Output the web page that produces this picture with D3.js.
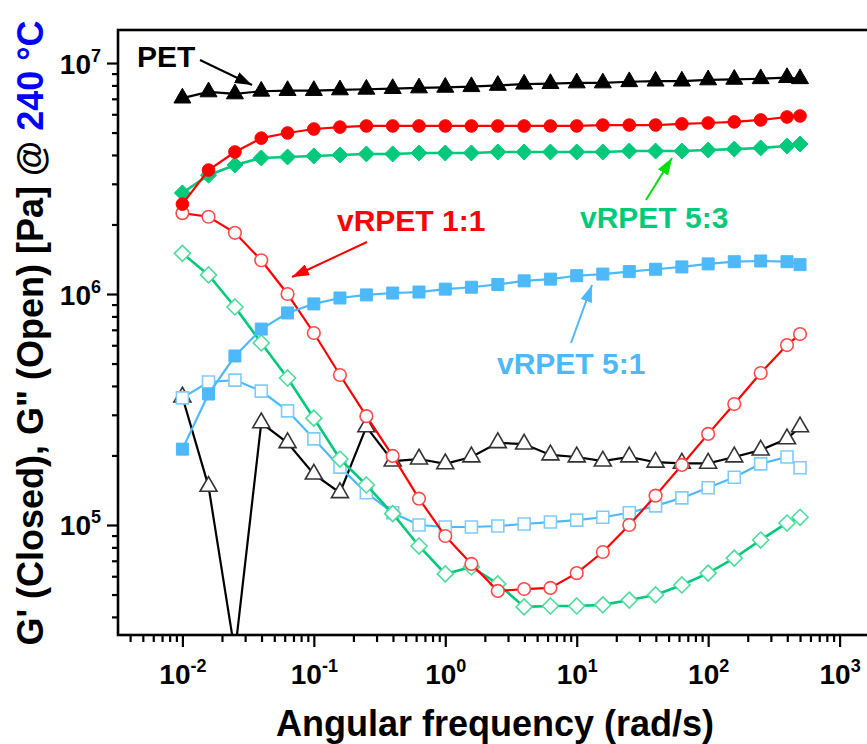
<!DOCTYPE html>
<html><head><meta charset="utf-8">
<script src="https://cdn.jsdelivr.net/npm/d3@7"></script>
<style>
body{margin:0;background:#fff}
svg{display:block}
text{font-family:"Liberation Sans",Arial,sans-serif;font-weight:bold}
</style>
</head><body>
<svg id="c" width="867" height="744"></svg>
<script>
// ---- data ----
const omega = [0.01, 0.0158, 0.0251, 0.0398, 0.0631, 0.1, 0.158, 0.251, 0.398, 0.631, 1, 1.58, 2.51, 3.98, 6.31, 10, 15.8, 25.1, 39.8, 63.1, 100, 158, 251, 398, 500];
const petGp   = [7.05e6, 7.5e6, 7.35e6, 7.55e6, 7.6e6, 7.6e6, 7.65e6, 7.7e6, 7.75e6, 7.8e6, 7.85e6, 7.9e6, 8.0e6, 8.1e6, 8.15e6, 8.2e6, 8.2e6, 8.3e6, 8.35e6, 8.35e6, 8.45e6, 8.5e6, 8.55e6, 8.65e6, 8.55e6];
const petGpp  = [3.58e5, 1.47e5, 2.8e4, 2.77e5, 2.27e5, 1.66e5, 1.38e5, 2.66e5, 1.89e5, 1.93e5, 1.84e5, 1.97e5, 2.27e5, 2.24e5, 2.01e5, 1.97e5, 1.89e5, 1.97e5, 1.87e5, 1.85e5, 1.85e5, 1.97e5, 2.11e5, 2.36e5, 2.66e5];
const r11Gp   = [2.45e6, 3.44e6, 4.12e6, 4.73e6, 4.98e6, 5.18e6, 5.28e6, 5.34e6, 5.34e6, 5.34e6, 5.34e6, 5.34e6, 5.34e6, 5.34e6, 5.34e6, 5.34e6, 5.39e6, 5.39e6, 5.39e6, 5.45e6, 5.5e6, 5.56e6, 5.67e6, 5.84e6, 5.9e6];
const r11Gpp  = [2.24e6, 2.16e6, 1.84e6, 1.4e6, 1.0e6, 6.78e5, 4.46e5, 2.96e5, 1.99e5, 1.3e5, 8.96e4, 6.78e4, 5.18e4, 5.28e4, 5.34e4, 6.19e4, 7.64e4, 1.0e5, 1.34e5, 1.82e5, 2.48e5, 3.34e5, 4.55e5, 6.01e5, 6.71e5];
const r53Gp   = [2.74e6, 3.27e6, 3.62e6, 3.88e6, 3.92e6, 3.96e6, 4.0e6, 4.04e6, 4.04e6, 4.08e6, 4.08e6, 4.08e6, 4.12e6, 4.12e6, 4.12e6, 4.12e6, 4.12e6, 4.16e6, 4.16e6, 4.16e6, 4.2e6, 4.24e6, 4.29e6, 4.37e6, 4.46e6];
const r53Gpp  = [1.5e6, 1.21e6, 8.79e5, 6.14e5, 4.33e5, 2.9e5, 1.93e5, 1.49e5, 1.12e5, 8.11e4, 6.14e4, 6.58e4, 5.56e4, 4.42e4, 4.46e4, 4.46e4, 4.51e4, 4.73e4, 4.98e4, 5.5e4, 6.19e4, 7.19e4, 8.61e4, 1.02e5, 1.08e5];
const r51Gp   = [2.13e5, 3.69e5, 5.39e5, 7.05e5, 8.28e5, 9.06e5, 9.61e5, 9.91e5, 1.01e6, 1.02e6, 1.05e6, 1.07e6, 1.1e6, 1.14e6, 1.16e6, 1.2e6, 1.22e6, 1.25e6, 1.28e6, 1.31e6, 1.35e6, 1.38e6, 1.39e6, 1.38e6, 1.34e6];
const r51Gpp  = [3.55e5, 4.16e5, 4.24e5, 3.8e5, 3.12e5, 2.36e5, 1.78e5, 1.38e5, 1.13e5, 1.0e5, 9.8e4, 9.8e4, 9.9e4, 1.01e5, 1.03e5, 1.05e5, 1.08e5, 1.13e5, 1.21e5, 1.31e5, 1.45e5, 1.61e5, 1.84e5, 1.97e5, 1.77e5];
const xMajorTicks = [1e-2, 1e-1, 1e0, 1e1, 1e2, 1e3];
const xTickExps   = ["-2", "-1", "0", "1", "2", "3"];
const yMajorTicks = [1e5, 1e6, 1e7];
const yTickExps   = ["5", "6", "7"];
const annotations = ["PET", "vRPET 1:1", "vRPET 5:3", "vRPET 5:1"];

// ---- layout ----
const plot = {left:118, top:30, right:904, bottom:635};
const svg = d3.select("#c");
const x = d3.scaleLog().domain([Math.pow(10,-2.49), Math.pow(10,3.49)]).range([plot.left, plot.right]);
const y = d3.scaleLog().domain([3.34e4, 1.39e7]).range([plot.bottom, plot.top]);

const colors = {black:"#000", red:"#ff0000", green:"#00c97b", blue:"#4db8fa"};
const openStroke = {black:"#333", red:"#ff4a4a", green:"#4ddc9c", blue:"#7fcbfb"};

function minors(scale){
  const [a,b] = scale.domain(); const out=[];
  for(let e=Math.floor(Math.log10(a)); e<=Math.ceil(Math.log10(b)); e++)
    for(let k=2;k<=9;k++){const v=k*Math.pow(10,e); if(v>=a && v<=b) out.push(v);}
  return out;
}

svg.append("defs").append("clipPath").attr("id","clip")
  .append("rect").attr("x",plot.left).attr("y",plot.top)
  .attr("width",plot.right-plot.left).attr("height",plot.bottom-plot.top);

// axes
const axW = 2.2;
const gxMin = svg.append("g").attr("transform",`translate(0,${plot.bottom})`)
  .call(d3.axisBottom(x).tickValues(minors(x)).tickSize(7).tickFormat(""));
const gxMaj = svg.append("g").attr("transform",`translate(0,${plot.bottom})`)
  .call(d3.axisBottom(x).tickValues(xMajorTicks).tickSize(12).tickFormat(""));
const gyMin = svg.append("g").attr("transform",`translate(${plot.left},0)`)
  .call(d3.axisLeft(y).tickValues(minors(y)).tickSize(6).tickFormat(""));
const gyMaj = svg.append("g").attr("transform",`translate(${plot.left},0)`)
  .call(d3.axisLeft(y).tickValues(yMajorTicks).tickSize(11).tickFormat(""));
[gxMin,gxMaj,gyMin,gyMaj].forEach(g=>{
  g.select(".domain").remove();
  g.selectAll(".tick line").attr("stroke","#000").attr("stroke-width",axW);
});

gxMaj.selectAll(".tick").each(function(d,i){
  const t = d3.select(this).append("text").attr("y",49).attr("text-anchor","middle")
    .attr("fill","#000").style("font-size","28px");
  t.append("tspan").text("10");
  t.append("tspan").attr("dy","-12").style("font-size","18px").text(xTickExps[i]);
});
gyMaj.selectAll(".tick").each(function(d,i){
  const t = d3.select(this).append("text").attr("x",-17).attr("y",10).attr("text-anchor","end")
    .attr("fill","#000").style("font-size","28px");
  t.append("tspan").text("10");
  t.append("tspan").attr("dy","-12").style("font-size","18px").text(yTickExps[i]);
});

// frame
svg.append("rect").attr("x",plot.left).attr("y",plot.top)
  .attr("width",plot.right-plot.left).attr("height",plot.bottom-plot.top)
  .attr("fill","none").attr("stroke","#000").attr("stroke-width",2.6);

// axis titles
svg.append("text").attr("x",495).attr("y",736).attr("text-anchor","middle")
  .style("font-size","36px").attr("fill","#000").text("Angular frequency (rad/s)");
const yt = svg.append("text").attr("transform","translate(43,333) rotate(-90)")
  .attr("text-anchor","middle").style("font-size","36px").attr("fill","#000");
yt.append("tspan").text("G' (Closed), G\" (Open) [Pa] @ ");
yt.append("tspan").attr("fill","#0000ff").text("240 \u00B0C");

// symbols
const sym = {
  triangle: d3.symbol().type(d3.symbolTriangle).size(125)(),
  circle:   d3.symbol().type(d3.symbolCircle).size(125)(),
  diamond:  "M0,-8L8,0L0,8L-8,0Z",
  square:   "M-6,-6H6V6H-6Z"
};

const series = [
  {vals:petGpp, c:"black", shape:"triangle", open:true},
  {vals:r51Gpp, c:"blue",  shape:"square",   open:true},
  {vals:r53Gpp, c:"green", shape:"diamond",  open:true},
  {vals:r11Gpp, c:"red",   shape:"circle",   open:true},
  {vals:r51Gp,  c:"blue",  shape:"square",   open:false},
  {vals:r53Gp,  c:"green", shape:"diamond",  open:false},
  {vals:r11Gp,  c:"red",   shape:"circle",   open:false},
  {vals:petGp,  c:"black", shape:"triangle", open:false}
];

const data = svg.append("g").attr("clip-path","url(#clip)");
const line = d3.line().x(d=>x(d[0])).y(d=>y(d[1]));
series.forEach(s=>{
  const pts = omega.map((w,i)=>[w, s.vals[i]]);
  const g = data.append("g");
  g.append("path").attr("d",line(pts)).attr("fill","none")
    .attr("stroke",colors[s.c]).attr("stroke-width", s.c==="green"?2.6:2.2);
  g.selectAll("path.m").data(pts).enter().append("path").attr("class","m")
    .attr("transform",d=>`translate(${x(d[0])},${y(d[1])})`)
    .attr("d",sym[s.shape])
    .attr("fill", s.open ? "#fff" : colors[s.c])
    .attr("stroke", s.open ? openStroke[s.c] : colors[s.c])
    .attr("stroke-width", s.open ? 1.6 : 1);
});

// annotations
const defs = svg.select("defs");
const arrowCols = {black:"#000", red:"#ff0000", green:"#00dd00", blue:"#4db8fa"};
Object.keys(arrowCols).forEach(k=>{
  defs.append("marker").attr("id","ah-"+k).attr("markerUnits","userSpaceOnUse")
    .attr("markerWidth",18).attr("markerHeight",12).attr("refX",17).attr("refY",6)
    .attr("orient","auto").append("path").attr("d","M0,0L17,6L0,12Z").attr("fill",arrowCols[k]);
});
const ann = [
  {t:annotations[0], c:"black", tx:137, ty:67,  a:[200,60,252,85],  tc:"#000"},
  {t:annotations[1], c:"red",   tx:337, ty:231, a:[367,242,292,277], tc:"#ff0000"},
  {t:annotations[2], c:"green", tx:580, ty:228, a:[646,200,672,158], tc:colors.green},
  {t:annotations[3], c:"blue",  tx:497, ty:374, a:[571,343,592,285], tc:colors.blue}
];
ann.forEach(a=>{
  svg.append("text").attr("x",a.tx).attr("y",a.ty).style("font-size","30px")
    .attr("fill",a.tc).text(a.t);
  svg.append("line").attr("x1",a.a[0]).attr("y1",a.a[1]).attr("x2",a.a[2]).attr("y2",a.a[3])
    .attr("stroke",arrowCols[a.c]).attr("stroke-width",2).attr("marker-end",`url(#ah-${a.c})`);
});
</script>
</body></html>
